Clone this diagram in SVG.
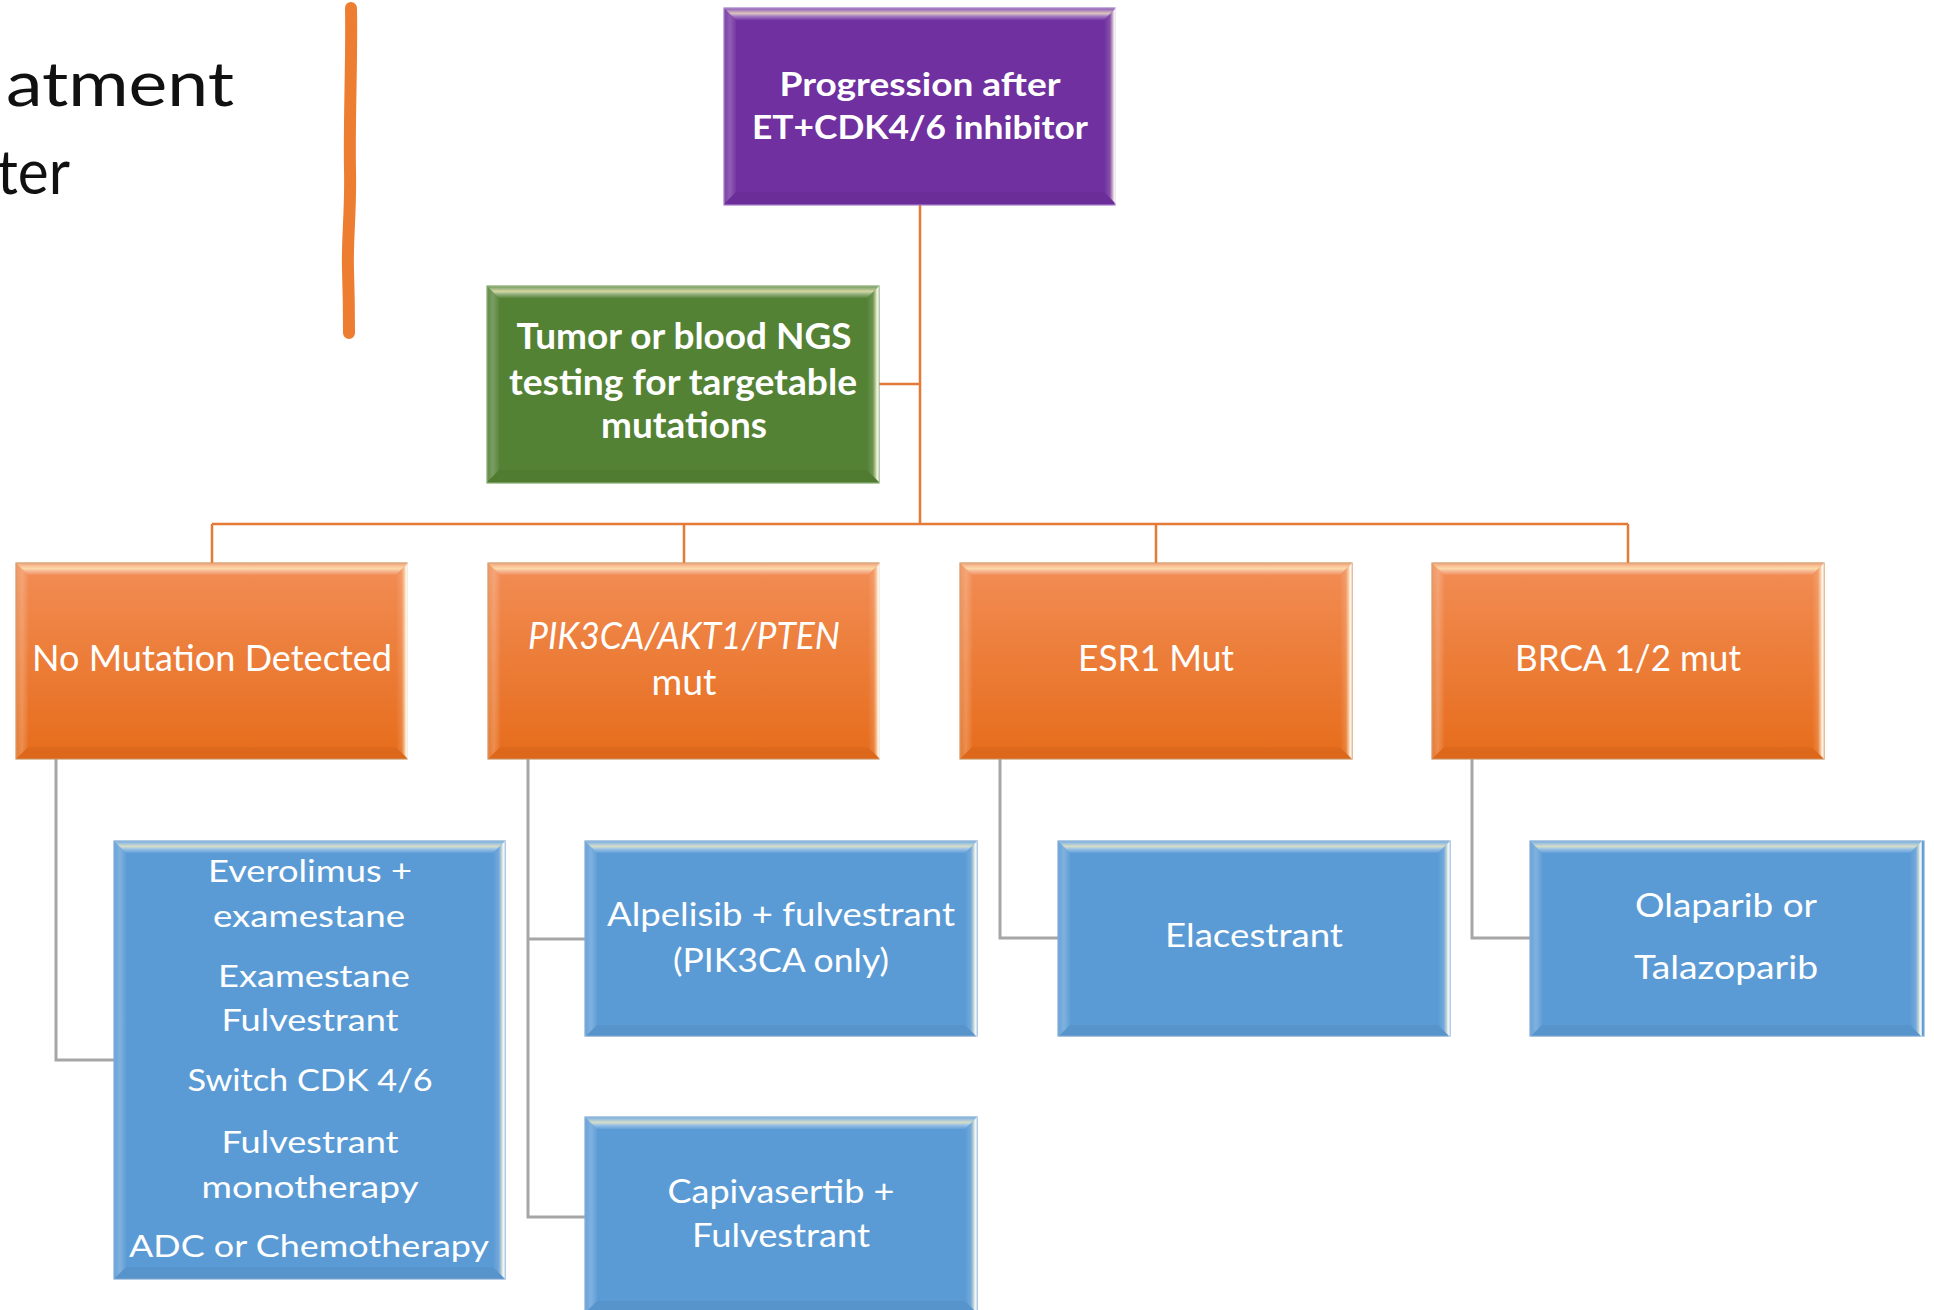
<svg xmlns="http://www.w3.org/2000/svg" xmlns:xlink="http://www.w3.org/1999/xlink" width="1934" height="1310" viewBox="0 0 1934 1310">
<defs>
<style>
.t{font-family:Lato,"Open Sans","Liberation Sans",sans-serif;fill:#ffffff;text-anchor:middle}
.b{font-weight:700}
.i{font-style:italic}
.title{font-family:Lato,"Open Sans","Liberation Sans",sans-serif;font-weight:400;fill:#111111}
.oc{stroke:#E57A36;stroke-width:2.5;fill:none}
.gc{stroke:#A6A6A6;stroke-width:3;fill:none}
.org{fill:url(#orangeFill);stroke:#CF9462;stroke-width:1.2}
.blu{fill:#5B9BD5;stroke:#7FA9D6;stroke-width:1.2}
.pur{fill:#7030A0;stroke:#A57CC8;stroke-width:1.2}
.grn{fill:#548235;stroke:#86A86E;stroke-width:1.2}
</style>
<linearGradient id="orangeFill" x1="0" y1="0" x2="0" y2="1">
<stop offset="0" stop-color="#F28D55"/>
<stop offset="1" stop-color="#E66C1B"/>
</linearGradient>
<linearGradient id="bvTop" x1="0" y1="0" x2="0" y2="1">
<stop offset="0" stop-color="#ffffff" stop-opacity="0.15"/>
<stop offset="0.45" stop-color="#FFF3C0" stop-opacity="0.75"/>
<stop offset="0.7" stop-color="#ffffff" stop-opacity="0.35"/>
<stop offset="1" stop-color="#ffffff" stop-opacity="0.05"/>
</linearGradient>
<linearGradient id="bvLeft" x1="0" y1="0" x2="1" y2="0">
<stop offset="0" stop-color="#ffffff" stop-opacity="0.08"/>
<stop offset="0.5" stop-color="#ffffff" stop-opacity="0.22"/>
<stop offset="1" stop-color="#ffffff" stop-opacity="0.04"/>
</linearGradient>
<linearGradient id="bvRight" x1="0" y1="0" x2="1" y2="0">
<stop offset="0" stop-color="#ffffff" stop-opacity="0"/>
<stop offset="0.5" stop-color="#ffffff" stop-opacity="0.15"/>
<stop offset="0.7" stop-color="#FFF4C8" stop-opacity="0.6"/>
<stop offset="0.85" stop-color="#ffffff" stop-opacity="0.95"/>
<stop offset="1" stop-color="#ffffff" stop-opacity="0.6"/>
</linearGradient>
<g id="bev">
<polygon points="0,0 392,0 380,12 12,12" fill="url(#bvTop)"/>
<polygon points="0,0 12,12 12,184 0,196" fill="url(#bvLeft)"/>
<polygon points="392,0 392,196 380,184 380,12" fill="url(#bvRight)"/>
<polygon points="0,196 392,196 380,184 12,184" fill="#000000" fill-opacity="0.04"/>
</g>
<g id="bevTall">
<polygon points="0,0 391,0 379,12 12,12" fill="url(#bvTop)"/>
<polygon points="0,0 12,12 12,426 0,438" fill="url(#bvLeft)"/>
<polygon points="391,0 391,438 379,426 379,12" fill="url(#bvRight)"/>
<polygon points="0,438 391,438 379,426 12,426" fill="#000000" fill-opacity="0.04"/>
</g>
</defs>
<rect width="1934" height="1310" fill="#ffffff"/>

<g id="title">
<text class="title" x="6" y="106" font-size="62" textLength="228" lengthAdjust="spacingAndGlyphs">atment</text>
<text class="title" x="-3" y="194" font-size="62" textLength="73" lengthAdjust="spacingAndGlyphs">ter</text>
<path d="M351,8 C352,60 349,120 350,170 C351,210 347,240 348,270 C349,300 349,320 349,333" stroke="#ED7D31" stroke-width="12" stroke-linecap="round" fill="none"/>
</g>

<g id="connectors">
<path class="oc" d="M920,205 V524"/>
<path class="oc" d="M879,384 H920"/>
<path class="oc" d="M212,524 H1628"/>
<path class="oc" d="M212,524 V563 M684,524 V563 M1156,524 V563 M1628,524 V563"/>
<path class="gc" d="M56,759 V1060 H114"/>
<path class="gc" d="M528,759 V1217 H585 M528,939 H585"/>
<path class="gc" d="M1000,759 V938 H1058"/>
<path class="gc" d="M1472,759 V938 H1530"/>
</g>

<g id="n-progression" transform="translate(724,8)">
<rect class="pur" width="391" height="197"/>
<use href="#bev"/>
<text class="t b" x="196" y="88" font-size="33" textLength="281" lengthAdjust="spacingAndGlyphs">Progression after</text>
<text class="t b" x="196" y="131" font-size="33" textLength="336" lengthAdjust="spacingAndGlyphs">ET+CDK4/6 inhibitor</text>
</g>

<g id="n-ngs" transform="translate(487,286)">
<rect class="grn" width="392" height="197"/>
<use href="#bev"/>
<text class="t b" x="197" y="63" font-size="36" textLength="335" lengthAdjust="spacingAndGlyphs">Tumor or blood NGS</text>
<text class="t b" x="196" y="109" font-size="36" textLength="348" lengthAdjust="spacingAndGlyphs">testing for targetable</text>
<text class="t b" x="197" y="152" font-size="36" textLength="166" lengthAdjust="spacingAndGlyphs">mutations</text>
</g>

<g id="n-nomut" transform="translate(16,563)">
<rect class="org" width="391" height="196"/>
<use href="#bev"/>
<text class="t" x="196" y="108" font-size="36" textLength="360" lengthAdjust="spacingAndGlyphs">No Mutation Detected</text>
</g>

<g id="n-pik3ca" transform="translate(488,563)">
<rect class="org" width="391" height="196"/>
<use href="#bev"/>
<text class="t i" x="196" y="86" font-size="36" textLength="312" lengthAdjust="spacingAndGlyphs">PIK3CA/AKT1/PTEN</text>
<text class="t" x="196" y="132" font-size="36" textLength="65" lengthAdjust="spacingAndGlyphs">mut</text>
</g>

<g id="n-esr1" transform="translate(960,563)">
<rect class="org" width="392" height="196"/>
<use href="#bev"/>
<text class="t" x="196" y="108" font-size="36" textLength="156" lengthAdjust="spacingAndGlyphs">ESR1 Mut</text>
</g>

<g id="n-brca" transform="translate(1432,563)">
<rect class="org" width="392" height="196"/>
<use href="#bev"/>
<text class="t" x="196" y="108" font-size="36" textLength="226" lengthAdjust="spacingAndGlyphs">BRCA 1/2 mut</text>
</g>

<g id="n-nomut-tx" transform="translate(114,841)">
<rect class="blu" width="391" height="438"/>
<use href="#bevTall"/>
<text class="t" x="196" y="41" font-size="31" textLength="204" lengthAdjust="spacingAndGlyphs">Everolimus +</text>
<text class="t" x="195" y="86" font-size="31" textLength="192" lengthAdjust="spacingAndGlyphs">examestane</text>
<text class="t" x="200" y="146" font-size="31" textLength="192" lengthAdjust="spacingAndGlyphs">Examestane</text>
<text class="t" x="196" y="190" font-size="31" textLength="177" lengthAdjust="spacingAndGlyphs">Fulvestrant</text>
<text class="t" x="196" y="250" font-size="31" textLength="245" lengthAdjust="spacingAndGlyphs">Switch CDK 4/6</text>
<text class="t" x="196" y="312" font-size="31" textLength="177" lengthAdjust="spacingAndGlyphs">Fulvestrant</text>
<text class="t" x="196" y="357" font-size="31" textLength="217" lengthAdjust="spacingAndGlyphs">monotherapy</text>
<text class="t" x="195" y="416" font-size="31" textLength="360" lengthAdjust="spacingAndGlyphs">ADC or Chemotherapy</text>
</g>

<g id="n-alpelisib" transform="translate(585,841)">
<rect class="blu" width="392" height="195"/>
<use href="#bev"/>
<text class="t" x="196" y="85" font-size="33" textLength="348" lengthAdjust="spacingAndGlyphs">Alpelisib + fulvestrant</text>
<text class="t" x="196" y="131" font-size="33" textLength="216" lengthAdjust="spacingAndGlyphs">(PIK3CA only)</text>
</g>

<g id="n-capivasertib" transform="translate(585,1117)">
<rect class="blu" width="392" height="195"/>
<use href="#bev"/>
<text class="t" x="196" y="86" font-size="33" textLength="227" lengthAdjust="spacingAndGlyphs">Capivasertib +</text>
<text class="t" x="196" y="130" font-size="33" textLength="178" lengthAdjust="spacingAndGlyphs">Fulvestrant</text>
</g>

<g id="n-elacestrant" transform="translate(1058,841)">
<rect class="blu" width="392" height="195"/>
<use href="#bev"/>
<text class="t" x="196" y="106" font-size="33" textLength="178" lengthAdjust="spacingAndGlyphs">Elacestrant</text>
</g>

<g id="n-parp" transform="translate(1530,841)">
<rect class="blu" width="394" height="195"/>
<use href="#bev"/>
<text class="t" x="196" y="76" font-size="33" textLength="182" lengthAdjust="spacingAndGlyphs">Olaparib or</text>
<text class="t" x="196" y="138" font-size="33" textLength="184" lengthAdjust="spacingAndGlyphs">Talazoparib</text>
</g>
</svg>
